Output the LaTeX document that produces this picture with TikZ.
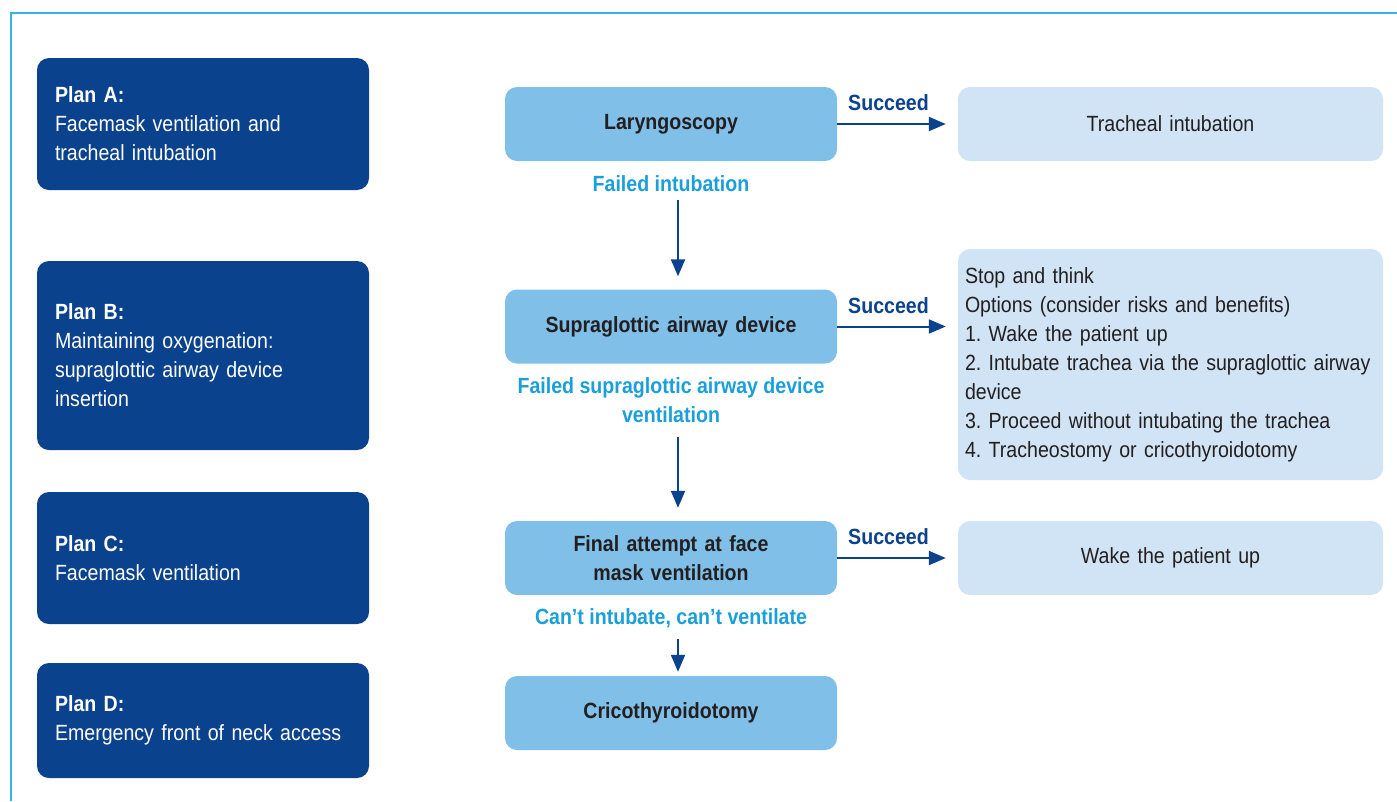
\documentclass[tikz,border=0pt]{standalone}
\usepackage{fontspec}
\setmainfont{Liberation Sans}[FakeStretch=0.89]
\usetikzlibrary{arrows.meta}
\frenchspacing

\definecolor{planblue}{HTML}{0B428E}
\definecolor{stepblue}{HTML}{80BFE8}
\definecolor{outblue}{HTML}{D0E4F5}
\definecolor{failcyan}{HTML}{1A9FDB}
\definecolor{darktext}{HTML}{231F20}
\definecolor{framecyan}{HTML}{3EB1E4}

\newcommand{\boxfont}{\fontsize{22}{29}\selectfont\hyphenpenalty=10000}

\tikzset{
    planbox/.style={fill=planblue, text=white, rounded corners=12pt, text width=296pt,
        inner xsep=18pt, inner ysep=0pt, align=left, font=\boxfont},
    stepbox/.style={fill=stepblue, text=darktext, rounded corners=12pt, minimum width=332pt,
        minimum height=74pt, text width=310pt, align=center, font=\boxfont\bfseries},
    outbox/.style={fill=outblue, text=darktext, rounded corners=12pt, minimum width=425pt,
        minimum height=74pt, text width=411pt, inner xsep=7pt, font=\boxfont},
    faillabel/.style={text=failcyan, align=center, inner sep=0pt, font=\boxfont\bfseries},
    oklabel/.style={text=planblue, inner sep=0pt, font=\boxfont\bfseries},
    arr/.style={draw=planblue, line width=2pt, -{Triangle[length=17pt, width=14pt]}}
}

\begin{document}
\begin{tikzpicture}[x=1pt, y=-1pt]

    \useasboundingbox (0,0) rectangle (1397,801);

    % Frame
    \draw[framecyan, line width=2pt] (1397,13) -- (11,13) -- (11,801);

    % Plans on the left
    \node[planbox, minimum height=132pt] (planA) at (203,124)
        {\textbf{Plan A:}\\Facemask ventilation and\\tracheal intubation};
    \node[planbox, minimum height=189pt] (planB) at (203,355.5)
        {\textbf{Plan B:}\\Maintaining oxygenation:\\supraglottic airway device\\insertion};
    \node[planbox, minimum height=132pt] (planC) at (203,558)
        {\textbf{Plan C:}\\Facemask ventilation};
    \node[planbox, minimum height=115pt] (planD) at (203,720.5)
        {\textbf{Plan D:}\\Emergency front of neck access};

    % Steps in the middle
    \node[stepbox] (laryn) at (671,124) {Laryngoscopy};
    \node[stepbox] (supra) at (671,326.5) {Supraglottic airway device};
    \node[stepbox] (final) at (671,558) {Final attempt at face\\mask ventilation};
    \node[stepbox] (crico) at (671,713) {Cricothyroidotomy};

    % Outcomes on the right
    \node[outbox, align=center] (trach) at (1170.5,124) {Tracheal intubation};
    \node[outbox, align=left, minimum height=231pt] (stop) at (1170.5,364.5)
        {Stop and think\\Options (consider risks and benefits)\\1. Wake the patient up\\2. Intubate trachea via the supraglottic airway\\device\\3. Proceed without intubating the trachea\\4. Tracheostomy or cricothyroidotomy};
    \node[outbox, align=center] (wake) at (1170.5,558) {Wake the patient up};

    % Failure labels
    \node[faillabel] (fail1) at (671,184) {Failed intubation};
    \node[faillabel] (fail2) at (671,400.5) {Failed supraglottic airway device\\ventilation};
    \node[faillabel] (fail3) at (671,618) {Can't intubate, can't ventilate};

    % Succeed arrows
    \draw[arr, shorten >=12pt] (laryn.east) -- node[oklabel, above=12pt, xshift=-9pt] {Succeed} (trach.west);
    \draw[arr, shorten >=12pt] (supra.east) -- node[oklabel, above=12pt, xshift=-9pt] {Succeed} (supra.east -| stop.west);
    \draw[arr, shorten >=12pt] (final.east) -- node[oklabel, above=12pt, xshift=-9pt] {Succeed} (wake.west);

    % Failure arrows
    \draw[arr, shorten <=8pt, shorten >=13pt] ([xshift=7pt]fail1.south) -- ([xshift=7pt]supra.north);
    \draw[arr, shorten <=14pt, shorten >=13pt] ([xshift=7pt]fail2.south) -- ([xshift=7pt]final.north);
    \draw[arr, shorten <=11pt, shorten >=4pt] ([xshift=7pt]fail3.south) -- ([xshift=7pt]crico.north);

\end{tikzpicture}
\end{document}
